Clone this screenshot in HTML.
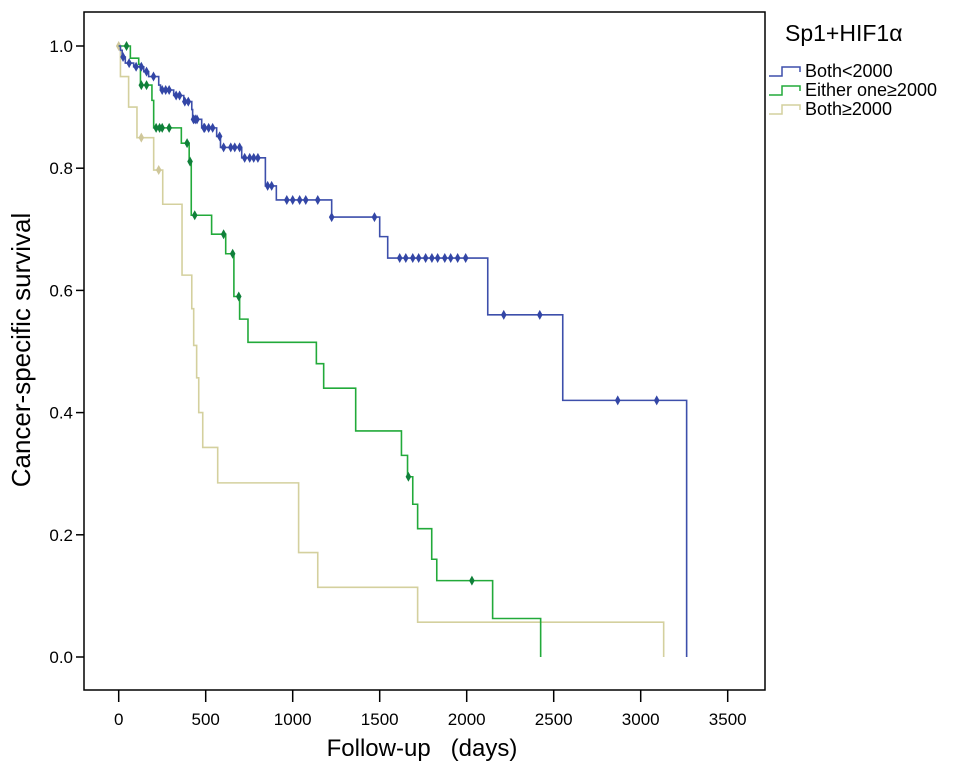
<!DOCTYPE html>
<html><head><meta charset="utf-8"><style>
body{margin:0;background:#fff;}
svg{display:block;font-family:"Liberation Sans",sans-serif;}
</style></head><body>
<svg id="chart" width="969" height="778" viewBox="0 0 969 778">
<rect x="84" y="12" width="681" height="678" fill="none" stroke="#000" stroke-width="1.5"/>
<g id="axes"></g>
<g id="series"></g>
<text x="30" y="350" font-size="26" text-anchor="middle" transform="rotate(-90 30 350)">Cancer-specific survival</text>
<text x="422" y="756" font-size="24" text-anchor="middle" xml:space="preserve">Follow-up   (days)</text>
<g>
<text x="785" y="41" font-size="23">Sp1+HIF1α</text>
<g id="legend"></g>
</g>
</svg>
<script>
const xTicks=[0,500,1000,1500,2000,2500,3000,3500];
const yTicks=[0.0,0.2,0.4,0.6,0.8,1.0];
const seriesNames=["Both<2000","Either one≥2000","Both≥2000"];
const blueTimes=[10,20,38,86,144,172,230,240,316,374,420,425,477,563,585,707,843,906,1224,1500,1546,2121,2552,3264];
const blueSurv=[1,0.993,0.982,0.972,0.966,0.958,0.950,0.936,0.928,0.919,0.909,0.896,0.880,0.866,0.852,0.834,0.817,0.771,0.748,0.720,0.688,0.653,0.560,0.420,0];
const blueCensor=[25,60,100,130,160,200,250,270,290,330,350,380,400,430,440,450,490,494,517,540,580,603,644,667,695,724,753,776,800,856,879,966,1000,1040,1075,1144,1224,1470,1615,1650,1690,1724,1764,1800,1833,1874,1908,1948,1994,2213,2420,2868,3092];
const greenTimes=[67,115,125,191,201,360,405,417,534,615,662,695,743,1136,1178,1362,1625,1660,1690,1718,1799,1828,2149,2425];
const greenSurv=[1,0.98,0.97,0.936,0.911,0.866,0.841,0.811,0.723,0.692,0.660,0.59,0.553,0.515,0.48,0.44,0.37,0.33,0.295,0.25,0.21,0.16,0.125,0.063,0];
const greenCensor=[45,130,160,215,235,250,290,393,410,437,603,655,690,1665,2030];
const tanTimes=[10,57,105,201,253,364,420,431,448,460,483,569,1034,1144,1718,3132];
const tanSurv=[1,0.95,0.90,0.85,0.797,0.741,0.625,0.57,0.51,0.457,0.40,0.343,0.285,0.171,0.114,0.057,0];
const tanCensor=[0,130,230];
const X=d=>118.7+d*0.174;
const Y=s=>657-s*611;
const NS="http://www.w3.org/2000/svg";
function mk(tag,attrs,parent){const e=document.createElementNS(NS,tag);for(const k in attrs)e.setAttribute(k,attrs[k]);parent.appendChild(e);return e;}
const axes=document.getElementById('axes');
xTicks.forEach(t=>{
  const l=mk('line',{x1:X(t),x2:X(t),y1:690,y2:702,stroke:'#000','stroke-width':1.5},axes);
  
  
  const tx=mk('text',{x:X(t),y:725,'font-size':17,'text-anchor':'middle'},axes);tx.textContent=t;
  
  
});
yTicks.forEach(t=>{
  const l=mk('line',{x1:76,x2:84,y1:Y(t),y2:Y(t),stroke:'#000','stroke-width':1.5},axes);
  
  
  const tx=mk('text',{x:73,y:Y(t)+6,'font-size':17,'text-anchor':'end'},axes);tx.textContent=t.toFixed(1);
  
  
});
function survAt(times,surv,t){let s=surv[0];for(let i=0;i<times.length;i++){if(times[i]<=t)s=surv[i+1];}return s;}
const sg=document.getElementById('series');
function drawSeries(times,surv,censor,color,mcolor,name){
  const g=mk('g',{},sg);
  
  
  let d='M'+X(0)+','+Y(surv[0]);
  for(let i=0;i<times.length;i++){d+=' H'+X(times[i])+' V'+Y(surv[i+1]);}
  const p=mk('path',{d:d,fill:'none',stroke:color,'stroke-width':1.6},g);
  
  
  censor.forEach(c=>{
    const cx=X(c),cy=Y(survAt(times,surv,c));
    const m=mk('path',{d:`M${cx},${cy-5}L${cx+2.8},${cy}L${cx},${cy+5}L${cx-2.8},${cy}Z`,fill:mcolor},g);
    
    
  });
}
drawSeries(tanTimes,tanSurv,tanCensor,'#d4d09e','#cfc79a','series-both-high');
drawSeries(greenTimes,greenSurv,greenCensor,'#22aa3a','#10803a','series-either-high');
drawSeries(blueTimes,blueSurv,blueCensor,'#3d4fab','#3346a6','series-both-low');
const lg=document.getElementById('legend');
const lcol=['#3d4fab','#22aa3a','#d4d09e'];
seriesNames.forEach((n,i)=>{
  const y=76+i*19;
  const p=mk('path',{d:`M769,${y} H782 V${y-9} H800 V${y-4}`,fill:'none',stroke:lcol[i],'stroke-width':1.5},lg);
  
  
  const t=mk('text',{x:805,y:y+1,'font-size':18},lg);t.textContent=n;
  
  
});
</script>
</body></html>
